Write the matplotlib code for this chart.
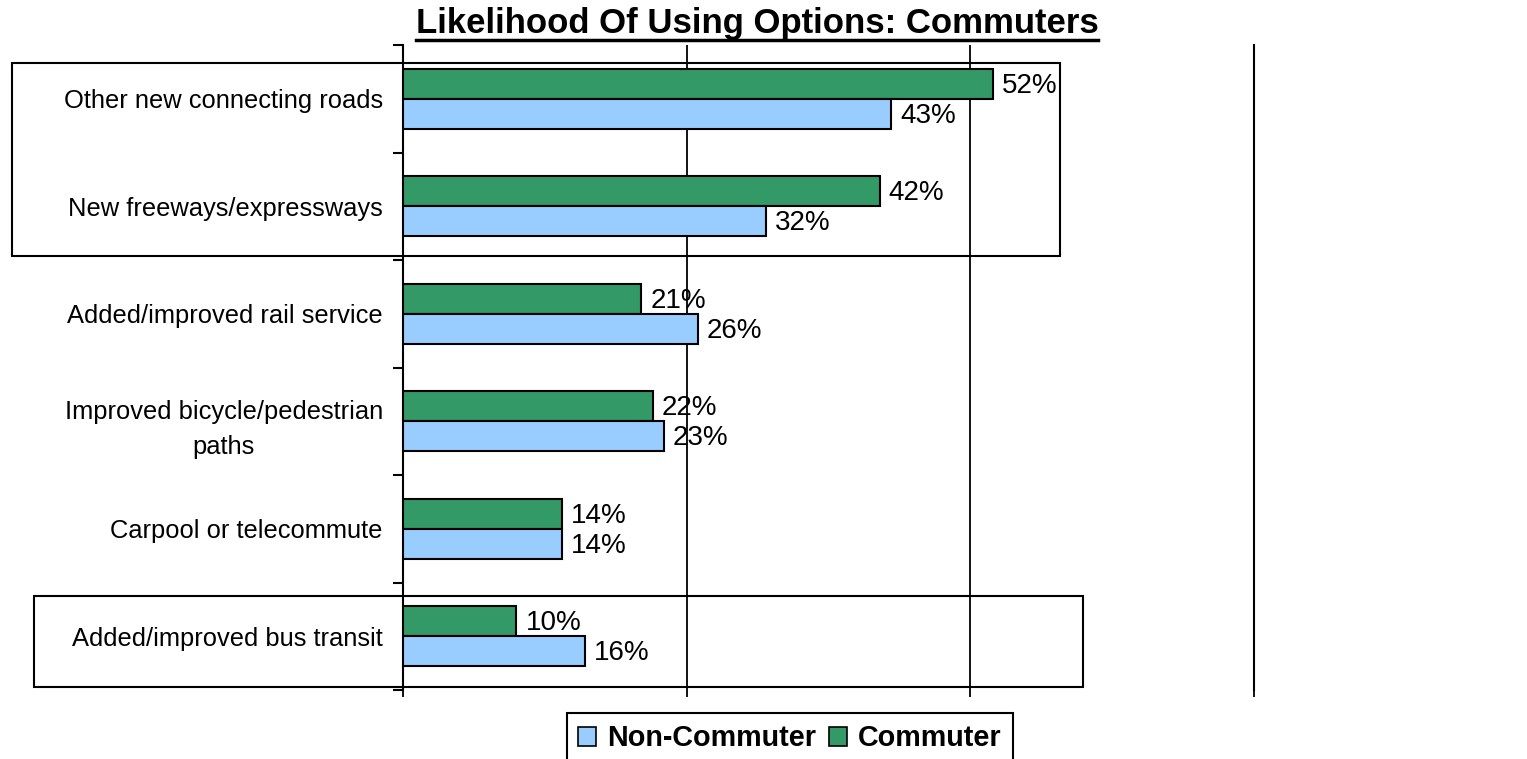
import matplotlib.pyplot as plt
from matplotlib.lines import Line2D
from matplotlib.patches import Rectangle, Patch
import numpy as np

plt.rcParams["font.family"] = ["Liberation Sans", "DejaVu Sans"]

categories = [
    "Other new connecting roads",
    "New freeways/expressways",
    "Added/improved rail service",
    "Improved bicycle/pedestrian\npaths",
    "Carpool or telecommute",
    "Added/improved bus transit",
]
commuter = [52, 42, 21, 22, 14, 10]
non_commuter = [43, 32, 26, 23, 14, 16]

GREEN = "#339966"
BLUE = "#99CCFF"

W, H = 1527, 759
fig = plt.figure(figsize=(W / 100, H / 100), dpi=100)
ax = fig.add_axes([403 / W, 1 - 690 / H, (1254 - 403) / W, (690 - 45) / H])

y = np.arange(len(categories))
bar_h = 0.28
ax.barh(y - bar_h / 2, commuter, height=bar_h, color=GREEN, edgecolor="black", linewidth=1.5, zorder=3)
ax.barh(y + bar_h / 2, non_commuter, height=bar_h, color=BLUE, edgecolor="black", linewidth=1.5, zorder=3)

for yi, c, n in zip(y, commuter, non_commuter):
    ax.text(c + 0.8, yi - bar_h / 2 + 0.02, f"{c}%", va="center", ha="left", fontsize=20, zorder=4)
    ax.text(n + 0.8, yi + bar_h / 2 + 0.02, f"{n}%", va="center", ha="left", fontsize=20, zorder=4)

ax.set_xlim(0, 75)
ax.set_ylim(len(categories) - 0.5, -0.5)

# gridlines at 25/50, right edge acts as the 75 line
for gx in (25, 50):
    ax.axvline(gx, color="black", linewidth=1.3, zorder=1)

ax.spines["top"].set_visible(False)
ax.spines["bottom"].set_visible(False)
ax.spines["right"].set_linewidth(1.5)
ax.spines["left"].set_linewidth(1.5)

ax.set_xticks([0, 25, 50, 75])
ax.tick_params(axis="x", length=5, width=1.3, labelbottom=False)
ax.set_yticks(y)
ax.set_yticklabels(categories, fontsize=18.4, ha="right", multialignment="center", linespacing=1.6)
ax.tick_params(axis="y", which="major", length=0, pad=14.5)
ax.set_yticks(np.arange(-0.5, len(categories)), minor=True)
ax.tick_params(axis="y", which="minor", length=7, width=1.5)

# highlight boxes around groups of options
fig.patches.append(Rectangle((12 / W, 1 - 256 / H), (1060 - 12) / W, (256 - 63) / H,
                             transform=fig.transFigure, fill=False, edgecolor="black",
                             linewidth=1.5, zorder=5))
fig.patches.append(Rectangle((34 / W, 1 - 687 / H), (1083 - 34) / W, (687 - 596) / H,
                             transform=fig.transFigure, fill=False, edgecolor="black",
                             linewidth=1.5, zorder=5))

title = fig.text(757 / W, 1 - 23 / H, "Likelihood Of Using Options: Commuters",
                 ha="center", va="center", fontsize=25, fontweight="bold")
fig.canvas.draw()
bb = title.get_window_extent().transformed(fig.transFigure.inverted())
fig.add_artist(Line2D([bb.x0, bb.x1], [1 - 40 / H, 1 - 40 / H], transform=fig.transFigure,
                      color="black", linewidth=2.5))

handles = [Patch(facecolor=BLUE, edgecolor="black", linewidth=1.2, label="Non-Commuter"),
           Patch(facecolor=GREEN, edgecolor="black", linewidth=1.2, label="Commuter")]
leg = fig.legend(handles=handles, loc="upper center", bbox_to_anchor=(790 / W, 1 - 713 / H),
                 ncol=2, fancybox=False, edgecolor="black", framealpha=1,
                 prop={"weight": "bold", "size": 20.7}, handlelength=0.63, handleheight=0.63,
                 handletextpad=0.38, columnspacing=0.45, borderpad=0.4, borderaxespad=0)
leg.get_frame().set_linewidth(1.5)

fig.savefig("out.png", dpi=100)
